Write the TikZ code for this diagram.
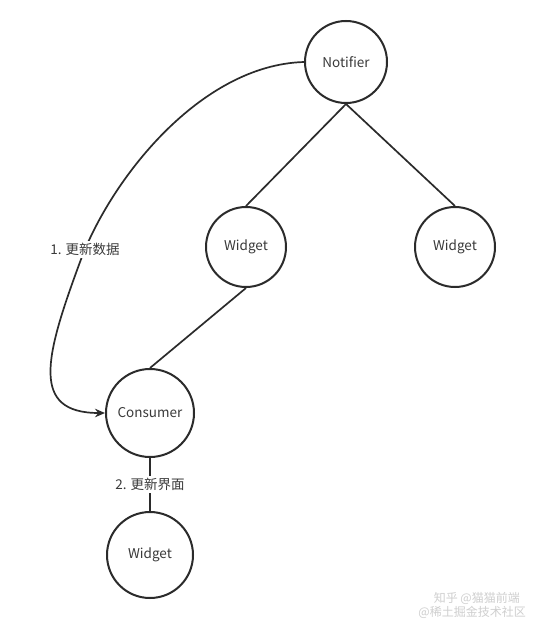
\documentclass[tikz,border=0pt]{standalone}
\usepackage{fontspec}
\setmainfont{Noto Sans CJK SC}
\usetikzlibrary{arrows.meta}
\definecolor{ink}{HTML}{2B2B2B}
\definecolor{txt}{HTML}{3A3A3A}
\definecolor{wm}{HTML}{CFCFCF}
\tikzset{
  bubble/.style={circle, draw=ink, line width=2pt, minimum size=#1, inner sep=0pt,
                 text=txt, font=\fontsize{13.5}{16}\selectfont},
  link/.style={draw=ink, line width=1.7pt},
  lbl/.style={fill=white, text=txt, font=\fontsize{13.5}{16}\selectfont, inner sep=2pt},
  wmark/.style={text=wm, font=\fontsize{12}{14}\selectfont, inner sep=0pt}
}
\begin{document}
\begin{tikzpicture}[x=1pt,y=-1pt]
\useasboundingbox[fill=white] (0,0) rectangle (533,623);
\node[bubble=82pt] (notifier) at (346,62) {Notifier};
\node[bubble=80pt] (wmid) at (246,247) {Widget};
\node[bubble=80pt] (wright) at (455,247) {Widget};
\node[bubble=88pt] (consumer) at (150,413) {Consumer};
\node[bubble=86pt] (wbot) at (150,555) {Widget};
\coordinate (bend) at (80,262);
\draw[link] (notifier.south) -- (wmid.north);
\draw[link] (notifier.south) -- (wright.north);
\draw[link] (wmid.south) -- (consumer.north);
\draw[link] (consumer.south) -- node[lbl] (l2) {2. 更新界面} (wbot.north);
\draw[link, -{Stealth[length=10pt,width=8.5pt]}] (notifier.west)
  .. controls (200,65) and (110,180) .. node[lbl, pos=0.95] (l1) {1. 更新数据} (bend)
  .. controls (45,357) and (30,413) .. (consumer.west);
\node[wmark, anchor=east] (wm1) at (520,598) {知乎 @猫猫前端};
\node[wmark, anchor=east] (wm2) at (526,612) {@稀土掘金技术社区};
\end{tikzpicture}
\end{document}
